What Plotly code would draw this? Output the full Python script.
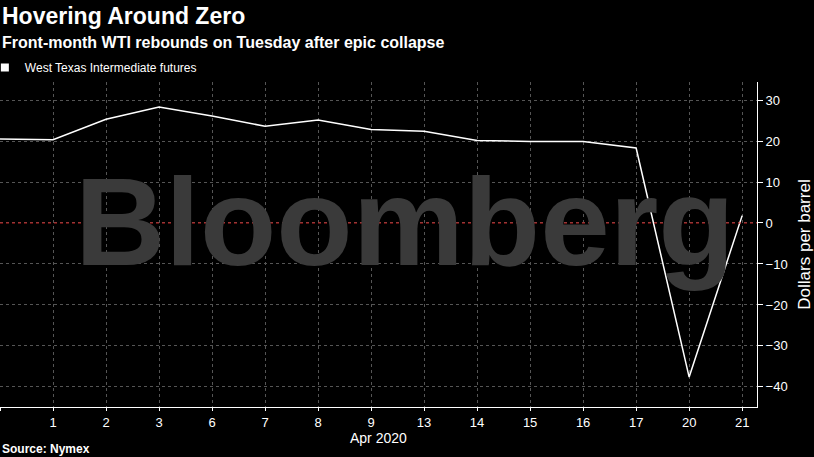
import plotly.graph_objects as go

# Trading days, Mar 31 to Apr 21 2020
day_labels = ["", "1", "2", "3", "6", "7", "8", "9", "13", "14", "15", "16", "17", "20", "21"]
wti = [20.5, 20.3, 25.3, 28.3, 26.1, 23.6, 25.1, 22.8, 22.4, 20.1, 19.9, 19.9, 18.3, -37.6, 1.8]
x_pos = list(range(len(day_labels)))

fig = go.Figure()
fig.add_trace(go.Scatter(x=x_pos, y=wti, mode="lines", showlegend=False,
                         line=dict(color="white", width=1.5)))
# legend entry drawn as a small white square, like the original
fig.add_trace(go.Scatter(x=[None], y=[None], mode="markers", name="West Texas Intermediate futures",
                         marker=dict(symbol="square", size=8, color="white")))

fig.add_hline(y=0, line=dict(color="#d02020", width=1, dash="dot"))

fig.add_annotation(text="<b>Bloomberg</b>", xref="paper", yref="paper", x=0.535, y=0.57,
                   showarrow=False, font=dict(family="Liberation Sans", size=125, color="#3a3a3a"))

fig.update_layout(
    width=814, height=457,
    paper_bgcolor="black", plot_bgcolor="black",
    margin=dict(l=0, r=57, t=82, b=50, autoexpand=False),
    font=dict(family="Liberation Sans", color="white", size=13),
    showlegend=True,
    legend=dict(x=-0.02, y=1.0, xanchor="left", yanchor="bottom", orientation="h",
                font=dict(size=12), bgcolor="rgba(0,0,0,0)", itemwidth=30),
    xaxis=dict(tickmode="array", tickvals=x_pos, ticktext=day_labels, range=[0, 14.28],
               showgrid=True, gridcolor="#555", griddash="dot", showline=True, linecolor="white",
               ticks="outside", ticklen=3, tickcolor="white", zeroline=False, title=None),
    yaxis=dict(side="right", range=[-44.9, 34.4], tickvals=[-40, -30, -20, -10, 0, 10, 20, 30],
               showgrid=True, gridcolor="#555", griddash="dot", showline=True, linecolor="white",
               ticks="outside", tickcolor="white", zeroline=False,
               title=dict(text="Dollars per barrel", font=dict(size=17))),
)

fig.add_annotation(text="<b>Hovering Around Zero</b>", xref="paper", yref="paper", x=0, y=1.203,
                   xanchor="left", yanchor="middle", showarrow=False, font=dict(size=23))
fig.add_annotation(text="<b>Front-month WTI rebounds on Tuesday after epic collapse</b>", xref="paper",
                   yref="paper", x=0, y=1.123, xanchor="left", yanchor="middle", showarrow=False,
                   font=dict(size=16))
fig.add_annotation(text="Apr 2020", xref="paper", yref="paper", x=0.5, y=-0.095, yanchor="middle",
                   showarrow=False, font=dict(size=14))
fig.add_annotation(text="<b>Source: Nymex</b>", xref="paper", yref="paper", x=0, y=-0.13,
                   xanchor="left", yanchor="middle", showarrow=False, font=dict(size=12))

fig.write_html("out.html", config={"displayModeBar": False},
               post_script="document.body.style.margin='0';")
